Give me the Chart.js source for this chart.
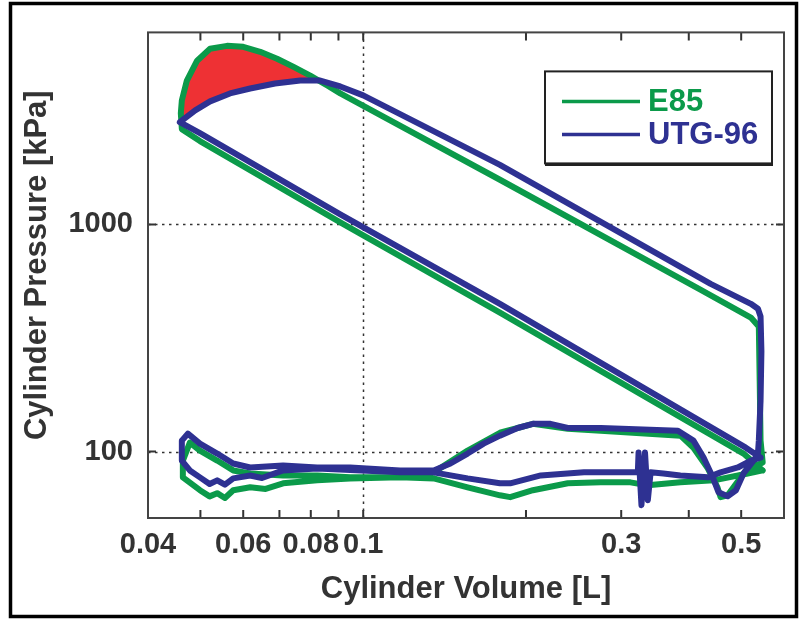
<!DOCTYPE html>
<html>
<head>
<meta charset="utf-8">
<script src="https://cdn.jsdelivr.net/npm/chart.js@4.4.1/dist/chart.umd.min.js"></script>
<style>
  html, body { margin: 0; padding: 0; background: #fff; }
</style>
</head>
<body>
<canvas id="graficoPV" width="802" height="621"></canvas>
<script>
const series = ['E85', 'UTG-96'];
const cores = ['#0b9a4a', '#2e3192'];

const volumeE85 = [0.548, 0.505, 0.179, 0.0907, 0.0499, 0.0462, 0.0460, 0.0462, 0.0472, 0.0493,
  0.0521, 0.0560, 0.0600, 0.0645, 0.0693, 0.0742, 0.0798, 0.0858, 0.0907, 0.179,
  0.421, 0.521, 0.539, 0.541, 0.543, 0.548, 0.510, 0.472, 0.458, 0.452,
  0.434, 0.408, 0.386, 0.275, 0.239, 0.206, 0.179, 0.156, 0.135, 0.117,
  0.0946, 0.0822, 0.0711, 0.0618, 0.0575, 0.0537, 0.0499, 0.0478, 0.0464, 0.0464,
  0.0499, 0.0520, 0.0537, 0.0555, 0.0575, 0.0618, 0.0660, 0.0711, 0.0822, 0.0946,
  0.117, 0.135, 0.156, 0.179, 0.187, 0.206, 0.239, 0.275, 0.312, 0.336,
  0.386, 0.445, 0.514, 0.548];
const pressureE85 = [82.6, 98, 409, 1020, 2327, 2626, 3085, 3515, 4297, 5255,
  5928, 6109, 6048, 5752, 5361, 4947, 4519, 4087, 3771, 1572,
  515, 389, 355, 204, 111.7, 89.5, 82.6, 64.2, 63, 69.6,
  84.2, 104, 117.5, 123.5, 126, 132.5, 121, 101, 81, 77,
  77, 78.5, 78.5, 80.1, 82.6, 91.3, 101, 109.5, 91.3, 77,
  67.6, 63.5, 65.6, 62.5, 67.6, 69.6, 68.5, 72.5, 74.7, 76.2,
  77, 76.2, 69.6, 64.2, 63, 67.6, 72.5, 73.2, 73.2, 71,
  73.2, 74.7, 80.1, 82.6];

const volumeUTG = [0.543, 0.510, 0.179, 0.0907, 0.0499, 0.0458, 0.0489, 0.0521, 0.0567, 0.0618,
  0.0687, 0.0765, 0.0833, 0.0907, 0.100, 0.179, 0.439, 0.521, 0.537, 0.543,
  0.545, 0.543, 0.539, 0.537, 0.527, 0.505, 0.489, 0.472, 0.454, 0.443,
  0.426, 0.408, 0.382, 0.275, 0.239, 0.222, 0.206, 0.193, 0.179, 0.167,
  0.156, 0.145, 0.135, 0.117, 0.0946, 0.0822, 0.0711, 0.0618, 0.0575, 0.0537,
  0.0499, 0.0474, 0.0462, 0.0462, 0.0478, 0.0499, 0.0520, 0.0537, 0.0555, 0.0575,
  0.0618, 0.0650, 0.0711, 0.0822, 0.117, 0.135, 0.156, 0.179, 0.187, 0.213,
  0.256, 0.290, 0.322, 0.323, 0.327, 0.332, 0.336, 0.340, 0.359, 0.386,
  0.434, 0.458, 0.493, 0.521, 0.543];
const pressureUTG = [94.1, 104, 447, 1106, 2522, 2818, 3178, 3479, 3771, 3965,
  4170, 4297, 4297, 4046, 3696, 1828, 547, 447, 425, 393,
  276, 167, 112, 98, 91.3, 80.1, 67.6, 63.6, 66.2, 77,
  94.1, 111.7, 123.5, 127, 127, 132.5, 132.5, 127, 117.5, 108.4,
  98, 88.6, 82.6, 82.6, 85.1, 85.1, 86.8, 85.1, 88.6, 98,
  108.4, 120, 111.7, 91.3, 82.6, 77, 72, 74.7, 71.5, 76.2,
  78.5, 76.5, 82.6, 84.2, 81, 81, 76.2, 72.5, 72.5, 78.5,
  81, 81, 81, 99, 58.1, 99, 61.1, 81, 80.1, 78.5,
  77, 81, 85.1, 91.3, 94.1];

// area vermelha entre as duas curvas de combustao
const volumeArea = [0.0460, 0.0464, 0.0472, 0.0493, 0.0521, 0.0560, 0.0600, 0.0645, 0.0693, 0.0742,
  0.0798, 0.0825, 0.0765, 0.0687, 0.0618, 0.0567, 0.0521, 0.0489, 0.0460];
const pressureArea = [2800, 3515, 4297, 5255, 5928, 6109, 6048, 5752, 5361, 4947,
  4519, 4297, 4297, 4170, 3965, 3771, 3479, 3178, 2800];

const volumeTicks = [0.04, 0.05, 0.06, 0.07, 0.08, 0.09, 0.1, 0.2, 0.3, 0.4, 0.5];
const volumeLabels = ['0.04', '', '0.06', '', '0.08', '', '0.1', '', '0.3', '', '0.5'];
const pressureTicks = [100, 1000];
const pressureLabels = ['100', '1000'];

function pontos(volumes, pressoes) {
  return volumes.map((v, i) => ({ x: v, y: pressoes[i] }));
}

function ehDecada(v) {
  const l = Math.log10(v);
  return Math.abs(l - Math.round(l)) < 1e-9;
}

const fonte = 'Liberation Sans, Arial, sans-serif';

const moldura = {
  id: 'moldura',
  beforeDatasetsDraw(chart) {
    const { ctx, chartArea: a, scales: { x, y } } = chart;
    ctx.save();
    ctx.strokeStyle = '#333';
    ctx.lineWidth = 1.5;
    ctx.setLineDash([2.5, 4.5]);
    volumeTicks.filter(ehDecada).forEach(v => {
      const px = Math.round(x.getPixelForValue(v)) + 0.5;
      ctx.beginPath(); ctx.moveTo(px, a.top); ctx.lineTo(px, a.bottom); ctx.stroke();
    });
    pressureTicks.filter(ehDecada).forEach(v => {
      const py = Math.round(y.getPixelForValue(v)) + 0.5;
      ctx.beginPath(); ctx.moveTo(a.left, py); ctx.lineTo(a.right, py); ctx.stroke();
    });
    ctx.restore();
  },
  afterDraw(chart) {
    const { ctx, chartArea: a, scales: { x, y } } = chart;
    ctx.save();
    // marcas para dentro nos quatro lados
    ctx.strokeStyle = '#333';
    ctx.lineWidth = 2;
    volumeTicks.forEach(v => {
      const px = x.getPixelForValue(v);
      ctx.beginPath();
      ctx.moveTo(px, a.bottom); ctx.lineTo(px, a.bottom - 8);
      ctx.moveTo(px, a.top); ctx.lineTo(px, a.top + 8);
      ctx.stroke();
    });
    pressureTicks.forEach(v => {
      const py = y.getPixelForValue(v);
      ctx.beginPath();
      ctx.moveTo(a.left, py); ctx.lineTo(a.left + 8, py);
      ctx.moveTo(a.right, py); ctx.lineTo(a.right - 8, py);
      ctx.stroke();
    });
    ctx.strokeStyle = '#444';
    ctx.strokeRect(a.left, a.top, a.right - a.left, a.bottom - a.top);

    // titulo do eixo y, um pouco acima do centro como no original
    ctx.fillStyle = '#333';
    ctx.font = 'bold 31px ' + fonte;
    ctx.textAlign = 'center';
    ctx.textBaseline = 'middle';
    ctx.save();
    ctx.translate(37, (a.top + a.bottom) / 2 - 10);
    ctx.rotate(-Math.PI / 2);
    ctx.fillText('Cylinder Pressure [kPa]', 0, 0);
    ctx.restore();

    // legenda
    const lx = a.right - 239, ly = a.top + 39, lw = 227, lh = 92;
    ctx.fillStyle = '#fff';
    ctx.fillRect(lx, ly, lw, lh);
    ctx.strokeStyle = '#222';
    ctx.lineWidth = 2;
    ctx.strokeRect(lx, ly, lw, lh);
    ctx.lineWidth = 3;
    ctx.beginPath(); ctx.moveTo(lx, ly + lh + 1); ctx.lineTo(lx + lw + 1, ly + lh + 1); ctx.stroke();
    ctx.font = 'bold 31px ' + fonte;
    ctx.textAlign = 'left';
    ctx.textBaseline = 'middle';
    series.forEach((nome, i) => {
      const yy = ly + 30 + i * 33;
      ctx.strokeStyle = cores[i];
      ctx.lineWidth = 3.5;
      ctx.beginPath(); ctx.moveTo(lx + 17, yy); ctx.lineTo(lx + 95, yy); ctx.stroke();
      ctx.fillStyle = cores[i];
      ctx.fillText(nome, lx + 103, yy + 1);
    });

    // moldura externa da figura
    ctx.strokeStyle = '#000';
    ctx.lineWidth = 3.5;
    ctx.strokeRect(10.5, 3.5, 786, 613);
    ctx.restore();
  }
};

const grafico = new Chart(document.getElementById('graficoPV'), {
  type: 'scatter',
  data: {
    datasets: [
      {
        label: 'area',
        data: pontos(volumeArea, pressureArea),
        showLine: true,
        fill: 'shape',
        backgroundColor: '#ee3134',
        borderWidth: 0,
        pointRadius: 0,
        order: 3
      },
      {
        label: series[0],
        data: pontos(volumeE85, pressureE85),
        showLine: true,
        borderColor: cores[0],
        backgroundColor: cores[0],
        borderWidth: 6,
        borderJoinStyle: 'round',
        borderCapStyle: 'round',
        pointRadius: 0,
        order: 2
      },
      {
        label: series[1],
        data: pontos(volumeUTG, pressureUTG),
        showLine: true,
        borderColor: cores[1],
        backgroundColor: cores[1],
        borderWidth: 6,
        borderJoinStyle: 'round',
        borderCapStyle: 'round',
        pointRadius: 0,
        order: 1
      }
    ]
  },
  options: {
    responsive: false,
    animation: false,
    devicePixelRatio: 1,
    layout: { padding: { left: 0, top: 29, right: 18, bottom: 0 } },
    plugins: {
      legend: { display: false },
      tooltip: { enabled: false }
    },
    scales: {
      x: {
        type: 'logarithmic',
        min: 0.04,
        max: 0.6,
        afterBuildTicks: (scale) => { scale.ticks = volumeTicks.map(v => ({ value: v })); },
        afterFit: (scale) => { scale.height = 103; },
        grid: { display: false, drawTicks: false },
        border: { display: false },
        ticks: {
          autoSkip: false,
          maxRotation: 0,
          padding: 10,
          color: '#333',
          font: { family: fonte, weight: 'bold', size: 29 },
          callback: (v, i) => volumeLabels[i]
        },
        title: {
          display: true,
          text: 'Cylinder Volume [L]',
          color: '#333',
          font: { family: fonte, weight: 'bold', size: 31, lineHeight: 1 },
          padding: { top: 0, bottom: 16 }
        }
      },
      y: {
        type: 'logarithmic',
        min: 51,
        max: 7000,
        afterBuildTicks: (scale) => { scale.ticks = pressureTicks.map(v => ({ value: v })); },
        afterFit: (scale) => { scale.width = 148; },
        grid: { display: false, drawTicks: false },
        border: { display: false },
        ticks: {
          padding: 15,
          color: '#333',
          font: { family: fonte, weight: 'bold', size: 29 },
          callback: (v, i) => pressureLabels[i]
        },
        title: { display: false }
      }
    }
  },
  plugins: [moldura]
});
</script>
</body>
</html>
